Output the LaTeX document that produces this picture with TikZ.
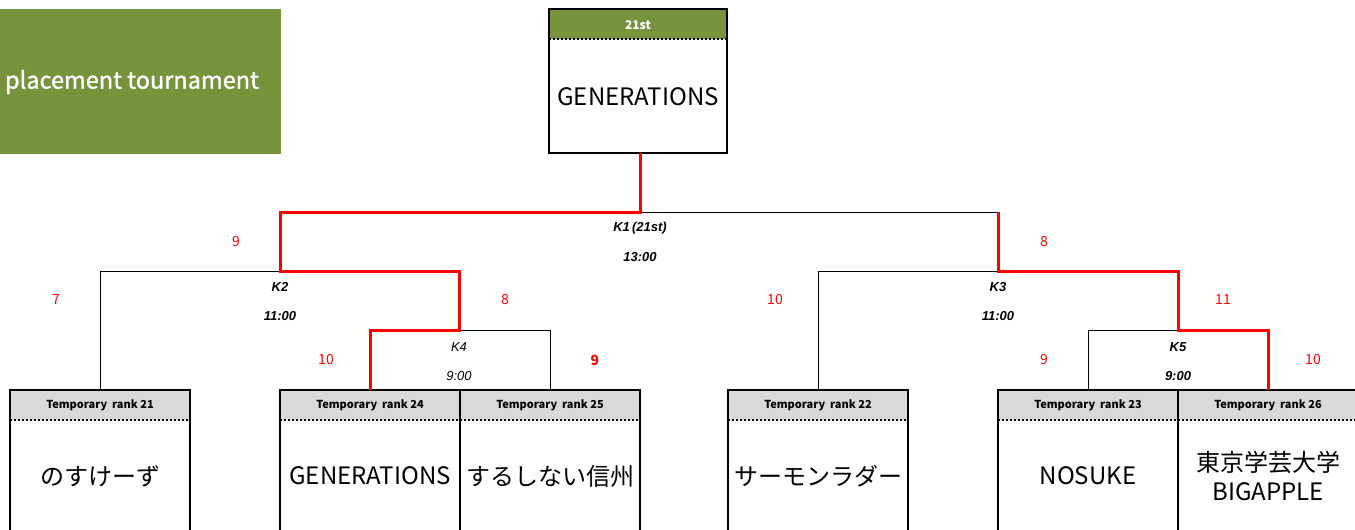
\documentclass[tikz,border=0pt]{standalone}
\usepackage{fontspec}
\setmainfont{Noto Sans CJK JP}
\newfontfamily\latinfont{Liberation Sans}
\newfontfamily\titlefont[FakeBold=1.2]{Noto Sans CJK JP}
\definecolor{olivegreen}{RGB}{119,147,60}
\definecolor{headgray}{RGB}{217,217,217}
\definecolor{winred}{RGB}{255,0,0}

\begin{document}
\begin{tikzpicture}[x=1pt, y=-1pt,
	bracket/.style={black, line width=0.8pt},
	winline/.style={winred, line width=3pt},
	boxline/.style={black, line width=2pt},
	sepline/.style={black, line width=1.6pt, dash pattern=on 2pt off 2pt},
	headbox/.style={fill=headgray, minimum width=180pt, minimum height=30pt, inner sep=0pt, font=\bfseries\fontsize{11}{13}\selectfont},
	namebox/.style={align=center, font=\fontsize{24}{29}\selectfont},
	klabel/.style={font=\latinfont\bfseries\itshape\fontsize{13}{15}\selectfont},
	score/.style={text=winred, font=\fontsize{14}{16}\selectfont}]

			\clip (0,0) rectangle (1355,530);
			\fill[white] (0,0) rectangle (1355,530);

			% title
			\fill[olivegreen] (0,9) rectangle (281,154);
			\node[text=white, font=\titlefont\fontsize{23.5}{27}\selectfont] (title) at (132,82) {placement tournament};

			% winner
			\fill[olivegreen] (549,9) rectangle (727,39);
			\node[text=white, font=\bfseries\fontsize{12}{14}\selectfont] (place) at (638,25) {21st};
			\node[namebox] (win) at (638,97) {GENERATIONS};
			\draw[sepline] (549,39) -- (727,39);
			\draw[boxline] (549,9) rectangle (727,153);
			\coordinate (winbot) at (640,153);

			% teams
			\foreach \nm/\lx/\rk/\tm in {t21/10/21/{のすけーず}, t24/280/24/{GENERATIONS}, t25/460/25/{するしない信州}, t22/728/22/{サーモンラダー}, t23/998/23/{NOSUKE}, t26/1178/26/{東京学芸大学\\BIGAPPLE}}{
				\node[headbox] (\nm) at (\lx+90,405) {Temporary\ \ rank \rk};
				\node[namebox] (\nm name) at (\lx+90,476) {\tm};
				\draw[sepline] (\lx,420) -- ++(180,0);
				\draw[boxline] (\lx,540) |- (\lx+180,390) -- (\lx+180,540);
			}

			% matches
			\coordinate (k1) at (640,212);
			\coordinate (k2) at (280,271);
			\coordinate (k3) at (998,271);
			\coordinate (k4) at (459,330);
			\coordinate (k5) at (1178,330);

			\draw[bracket] (t21.north) |- (k2);
			\draw[bracket] (t25.north) |- (k4);
			\draw[bracket] (t22.north) |- (k3);
			\draw[bracket] (t23.north) |- (k5);
			\draw[bracket] (k1) -- (k1 -| k3);

			\draw[winline] (winbot) -- (k1) -| (k2) -| (k4) -| (t24.north);
			\draw[winline] (k1 -| k3) -- (k3) -| (k5) -| (t26.north);

			\node[klabel] (k1a) at (640,228) {K1\,(21st)};
			\node[klabel] (k1b) at (640,257) {13:00};
			\node[klabel] (k2a) at (280,287) {K2};
			\node[klabel] (k2b) at (280,316) {11:00};
			\node[klabel] (k3a) at (998,287) {K3};
			\node[klabel] (k3b) at (998,316) {11:00};
			\node[klabel, font=\latinfont\itshape\fontsize{13}{15}\selectfont] (k4a) at (459,347) {K4};
			\node[klabel, font=\latinfont\itshape\fontsize{13}{15}\selectfont] (k4b) at (459,376) {9:00};
			\node[klabel] (k5a) at (1178,347) {K5};
			\node[klabel] (k5b) at (1178,376) {9:00};

			% scores
			\foreach \px/\py/\sc [count=\i] in {236/242/9, 1044/242/8, 56/300/7, 505/300/8, 326/360/10, 775/300/10, 1223/300/11, 1044/360/9, 1313/360/10}{
				\node[score] (s\i) at (\px,\py) {\sc};
			}
			\node[score, font=\bfseries\fontsize{14}{16}\selectfont] (s10) at (595,360) {9};

\end{tikzpicture}
\end{document}
